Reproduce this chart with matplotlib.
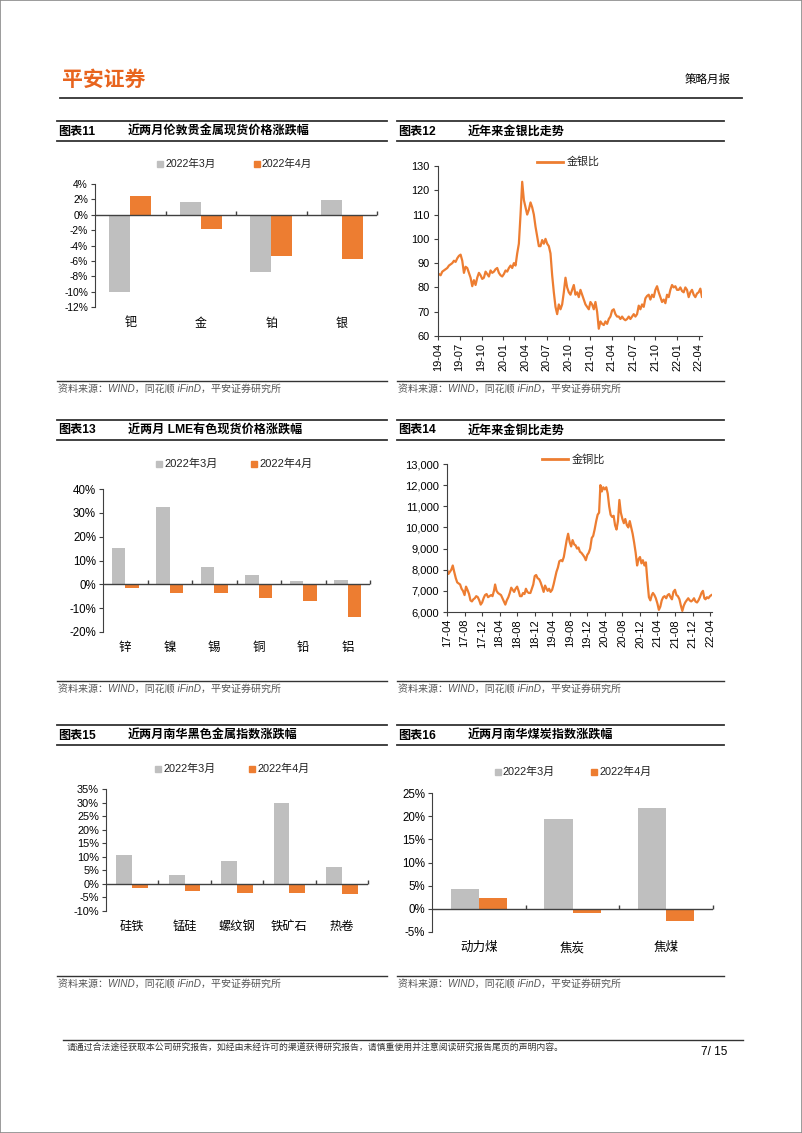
import numpy as np
import pandas as pd
import matplotlib
matplotlib.use('Agg')
import matplotlib.pyplot as plt
import matplotlib.dates as mdates
from matplotlib.patches import Rectangle
from matplotlib.lines import Line2D
from matplotlib.ticker import FuncFormatter

plt.rcParams['font.family'] = ['Liberation Sans', 'Noto Sans CJK SC']

# ---------------- data ----------------
legend_labels = ['2022年3月', '2022年4月']

precious_cats = ['钯', '金', '铂', '银']
precious_mar = [-10.0, 1.6, -7.5, 1.9]
precious_apr = [2.4, -1.8, -5.4, -5.7]

lme_cats = ['锌', '镍', '锡', '铜', '铅', '铝']
lme_mar = [15.2, 32.5, 7.1, 3.8, 1.3, 1.7]
lme_apr = [-1.5, -3.6, -3.5, -5.6, -7.1, -13.7]

ferrous_cats = ['硅铁', '锰硅', '螺纹钢', '铁矿石', '热卷']
ferrous_mar = [10.8, 3.4, 8.6, 29.8, 6.3]
ferrous_apr = [-1.7, -2.5, -3.3, -3.3, -3.9]

coal_cats = ['动力煤', '焦炭', '焦煤']
coal_mar = [4.3, 19.4, 21.8]
coal_apr = [2.3, -0.8, -2.7]

# gold / silver ratio, weekly (Fridays) from 2019-04-05
gs_start = '2019-04-05'
gs_ratio = [
    85.5, 85, 86.5, 87,            # 2019-04
    87.5, 88, 89, 89.5, 90,        # 2019-05
    91, 90.5, 92, 93,              # 2019-06
    93.5, 91, 86, 88.5,            # 2019-07
    88, 86, 84, 80.5, 83,          # 2019-08
    81, 84, 86, 85,                # 2019-09
    83.5, 84, 86.5, 85.5,          # 2019-10
    84.5, 87, 86, 86.5, 87.5,      # 2019-11
    88, 86, 85, 84.5,              # 2019-12
    85.5, 87, 86.5, 88, 89,        # 2020-01
    88, 90, 89, 94,                # 2020-02
    98, 110, 123.5, 116,           # 2020-03
    113, 110, 112, 115,            # 2020-04
    113, 110, 105, 101, 97,        # 2020-05
    97, 99.5, 98, 100,             # 2020-06
    98, 97, 94, 85, 78,            # 2020-07
    72, 69, 73, 71,                # 2020-08
    73, 78, 84, 80,                # 2020-09
    78, 77, 79, 81, 77,            # 2020-10
    78, 76, 79, 77,                # 2020-11
    75, 73, 72, 71,                # 2020-12
    74, 73, 71, 74, 70,            # 2021-01
    63, 66, 65, 64.5,              # 2021-02
    66, 65, 67, 68,                # 2021-03
    70.5, 71, 69, 68, 68,          # 2021-04
    67, 68, 67, 66.5,              # 2021-05
    67, 68, 67, 68,                # 2021-06
    69, 68, 69, 72.5, 71,          # 2021-07
    73, 72, 75.5, 76.5,            # 2021-08
    77, 75, 77, 76,                # 2021-09
    79, 80.5, 78, 76, 74,          # 2021-10
    75, 73.5, 77, 76,              # 2021-11
    79, 81, 80, 80.5, 79,          # 2021-12
    79, 80, 78.5, 78,              # 2022-01
    80, 79, 76, 78,                # 2022-02
    79, 77, 76, 77.5,              # 2022-03
    78, 79.5, 76, 80, 82,          # 2022-04
]

# gold / copper ratio, three readings a month (1st, 11th, 21st) from 2017-04
gc_start = '2017-04-01'
gc_ratio = [
    8000, 7800, 7900,  8000, 8200, 7900,  7600, 7400, 7350,  7300, 7100, 7000,      # 2017-04..07
    6800, 7200, 7050,  6850, 6550, 6500,  6600, 6650, 6750,  6700, 6550, 6350,      # 2017-08..11
    6450, 6650, 6800,  6850, 6700, 6750,  6800, 6750, 7000,  7300, 7000, 6900,      # 2017-12..2018-03
    6850, 6800, 6650,  6500, 6350, 6550,  6700, 6900, 7150,  7050, 6950, 7100,      # 2018-04..07
    7200, 7000, 6750,  6750, 6900, 6850,  7100, 6950, 6900,  6900, 7100, 7300,      # 2018-08..11
    7700, 7750, 7600,  7550, 7400, 7200,  6950, 7250, 7100,  7000, 7100, 6950,      # 2018-12..2019-03
    7050, 7300, 7600,  7900, 8100, 8400,  8450, 8400, 8600,  9000, 9400, 9700,      # 2019-04..07
    9300, 9100, 9400,  9200, 9150, 9000,  9050, 8850, 8800,  8700, 8600, 8450,      # 2019-08..11
    8700, 8800, 9000,  9500, 9600, 9900,  10300, 10600, 10700,  12000, 11700, 11900,  # 2019-12..2020-03
    11800, 11900, 11600,  11000, 10600, 10500,  10550, 10100, 9900,  10300, 11300, 10700,  # 2020-04..07
    10400, 10200, 10400,  10100, 10000, 10300,  10000, 9700, 9300,  8800, 8200, 8500,  # 2020-08..11
    8600, 8300, 8450,  8200, 8350, 7500,  6700, 6550, 6800,  6900, 6800, 6650,      # 2020-12..2021-03
    6400, 6100, 6250,  6550, 6700, 6750,  6650, 6800, 6850,  6700, 6600, 6950,      # 2021-04..07
    7050, 6800, 6750,  6600, 6300, 6050,  6300, 6450, 6550,  6650, 6550, 6500,      # 2021-08..11
    6550, 6650, 6500,  6450, 6550, 6700,  6900, 7000, 6650,  6600, 6700, 6650,      # 2021-12..2022-03
    6750, 6800,                                                                    # 2022-04
]

source_text = '资料来源：WIND，同花顺 iFinD，平安证券研究所'

# ---------------- style ----------------
W, H = 802, 1133
GRAY = '#BFBFBF'
ORANGE = '#ED7D31'
DARK = '#333333'
AXC = '#404040'

fig = plt.figure(figsize=(W / 100, H / 100), dpi=100)


def fx(x):
    return x / W


def fy(y):
    return 1 - y / H


def px_axes(x0, y0, x1, y1):
    return fig.add_axes([x0 / W, 1 - y1 / H, (x1 - x0) / W, (y1 - y0) / H])


def hline(x0, x1, y, lw=1.0, color=DARK):
    fig.add_artist(Line2D([fx(x0), fx(x1)], [fy(y), fy(y)], lw=lw, color=color,
                          transform=fig.transFigure))


def panel(x0, x1, ytop, num, title, ysrc):
    hline(x0, x1, ytop, 1.3)
    hline(x0, x1, ytop + 20, 1.3)
    fig.text(fx(x0 + 1), fy(ytop + 10.5), num, fontsize=8.7, weight='bold', va='center')
    fig.text(fx(x0 + 71), fy(ytop + 10.5), title, fontsize=8.7, weight='bold', va='center')
    hline(x0, x1, ysrc, 1.0)
    fig.text(fx(x0 + 1), fy(ysrc + 8), source_text, fontsize=7.2, color='#555555',
             style='italic', va='center')


def box_key(x, y, color, label, fs):
    fig.add_artist(Rectangle((fx(x - 3), fy(y + 3)), 6 / W, 6 / H, color=color,
                             transform=fig.transFigure))
    fig.text(fx(x + 5), fy(y), label, fontsize=fs, va='center', color='#222222')


def line_key(x, y, label, fs):
    hline(x, x + 26, y, 2.0, ORANGE)
    fig.text(fx(x + 30), fy(y), label, fontsize=fs, va='center', color='#222222')


def bar_chart(box, cats, mar, apr, ylim, step, fs, cfs, pad):
    ax = px_axes(*box)
    x = np.arange(len(cats)) + 0.5
    ax.bar(x - 0.15, mar, 0.3, color=GRAY)
    ax.bar(x + 0.15, apr, 0.3, color=ORANGE)
    ax.set_xlim(0, len(cats))
    ax.set_ylim(*ylim)
    ax.set_yticks(np.arange(ylim[0], ylim[1] + step / 2, step))
    ax.yaxis.set_major_formatter(FuncFormatter(lambda v, p: f'{v:.0f}%'))
    for s in ['top', 'right', 'bottom']:
        ax.spines[s].set_visible(False)
    ax.spines['left'].set_color(AXC)
    ax.axhline(0, color=AXC, lw=1.0)
    ax.plot(np.arange(1, len(cats) + 1), np.zeros(len(cats)), ls='none', marker=2,
            ms=3, color=AXC, clip_on=False)
    ax.set_xticks(x)
    ax.set_xticklabels(cats)
    ax.tick_params(axis='x', length=0, pad=pad, labelsize=cfs)
    ax.tick_params(axis='y', direction='out', length=3, color=AXC, labelsize=fs, pad=2)
    ax.set_facecolor('none')
    return ax


def line_chart(box, dates, vals, ylim, step, months, xend, fs, fmt):
    ax = px_axes(*box)
    ax.plot(dates, vals, color=ORANGE, lw=1.6)
    ax.set_ylim(*ylim)
    ax.set_yticks(np.arange(ylim[0], ylim[1] + step / 2, step))
    ax.yaxis.set_major_formatter(FuncFormatter(fmt))
    ax.set_xlim(dates[0].replace(day=1), pd.Timestamp(xend))
    ax.xaxis.set_major_locator(mdates.MonthLocator(bymonth=months))
    ax.xaxis.set_major_formatter(mdates.DateFormatter('%y-%m'))
    for s in ['top', 'right']:
        ax.spines[s].set_visible(False)
    for s in ['left', 'bottom']:
        ax.spines[s].set_color(AXC)
    ax.tick_params(axis='x', direction='out', length=3, color=AXC, labelsize=fs,
                   labelrotation=90, pad=2)
    ax.tick_params(axis='y', direction='out', length=3, color=AXC, labelsize=fs, pad=3)
    ax.set_facecolor('none')
    return ax


# ---------------- page frame / header / footer ----------------
fig.add_artist(Rectangle((0, 0), 1, 1, fill=False, ec='#8a8a8a', lw=1.2,
                         transform=fig.transFigure))
fig.text(fx(62), fy(79), '平安证券', fontsize=15, weight='heavy', color='#E8641E',
         va='center', family='Noto Sans CJK SC')
fig.text(fx(731), fy(80), '策略月报', fontsize=8.3, va='center', ha='right')
hline(60, 742, 98, 1.3)

hline(63, 743, 1040, 1.0)
fig.text(fx(67), fy(1048), '请通过合法途径获取本公司研究报告，如经由未经许可的渠道获得研究报告，'
         '请慎重使用并注意阅读研究报告尾页的声明内容。', fontsize=6.4, va='center', color='#333333')
fig.text(fx(727), fy(1052), '7/ 15', fontsize=8.5, va='center', ha='right')

# ---------------- panels ----------------
LX0, LX1, RX0, RX1 = 57, 387, 397, 724
panel(LX0, LX1, 121, '图表11', '近两月伦敦贵金属现货价格涨跌幅', 381)
panel(RX0, RX1, 121, '图表12', '近年来金银比走势', 381)
panel(LX0, LX1, 420, '图表13', '近两月 LME有色现货价格涨跌幅', 681)
panel(RX0, RX1, 420, '图表14', '近年来金铜比走势', 681)
panel(LX0, LX1, 725, '图表15', '近两月南华黑色金属指数涨跌幅', 976)
panel(RX0, RX1, 725, '图表16', '近两月南华煤炭指数涨跌幅', 976)

# chart 11
bar_chart((95, 184, 377, 307), precious_cats, precious_mar, precious_apr, (-12, 4), 2,
          7.4, 8.6, 8)
box_key(160, 164, GRAY, legend_labels[0], 7.6)
box_key(257, 164, ORANGE, legend_labels[1], 7.6)

# chart 13
bar_chart((103, 489, 370, 632), lme_cats, lme_mar, lme_apr, (-20, 40), 10, 8.3, 9.0, 7)
box_key(159, 464, GRAY, legend_labels[0], 8.0)
box_key(254, 464, ORANGE, legend_labels[1], 8.0)

# chart 15
bar_chart((106, 789, 368, 911), ferrous_cats, ferrous_mar, ferrous_apr, (-10, 35), 5,
          7.9, 8.8, 7)
box_key(158, 769, GRAY, legend_labels[0], 7.9)
box_key(252, 769, ORANGE, legend_labels[1], 7.9)

# chart 16
bar_chart((432, 793, 713, 932), coal_cats, coal_mar, coal_apr, (-5, 25), 5, 8.3, 9.0, 7)
box_key(498, 772, GRAY, legend_labels[0], 7.9)
box_key(594, 772, ORANGE, legend_labels[1], 7.9)

# chart 12
gs_dates = pd.date_range(gs_start, periods=len(gs_ratio), freq='W-FRI')
line_chart((438, 166, 702, 336), gs_dates, gs_ratio, (60, 130), 10, [1, 4, 7, 10],
           '2022-04-15', 7.9, lambda v, p: f'{v:.0f}')
line_key(537, 162, '金银比', 7.9)

# chart 14
gc_months = pd.date_range(gc_start, periods=61, freq='MS')
gc_dates = pd.DatetimeIndex([m + pd.Timedelta(days=d) for m in gc_months for d in (0, 10, 20)])
gc_dates = gc_dates[:len(gc_ratio)]
line_chart((447, 464, 712, 612), gc_dates, gc_ratio, (6000, 13000), 1000, [4, 8, 12],
           '2022-04-15', 8.0, lambda v, p: f'{v:,.0f}')
line_key(542, 459, '金铜比', 8.0)

fig.savefig('out.png', dpi=100)
